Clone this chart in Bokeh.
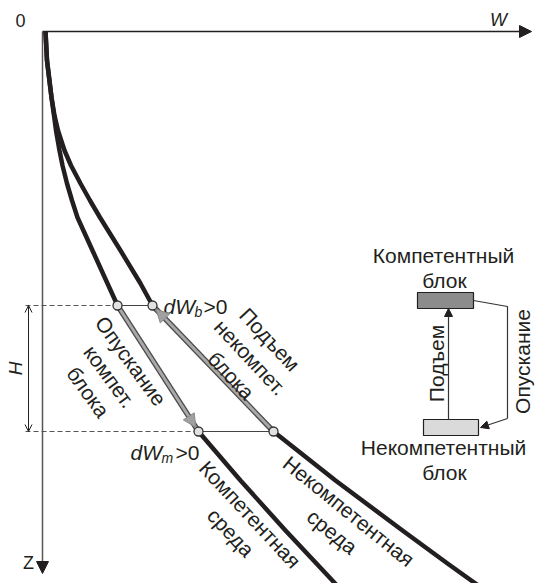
import math
from bokeh.plotting import figure
from bokeh.models import Range1d, Arrow, NormalHead, OpenHead
from bokeh.core.properties import value
from bokeh.embed import file_html
from bokeh.resources import INLINE

# ---- data (W to the right, Z downward, origin at the axes corner) ----
comp_upper_z = [0, 29, 66, 84, 99, 119, 134, 152, 169, 186, 219, 252, 274]
comp_upper_w = [3, 4.5, 9, 11.5, 13.5, 17, 20, 24.5, 29.5, 35, 50, 65, 75]
comp_lower_z = [400, 449, 499, 547, 560]
comp_lower_w = [156, 198, 243, 288, 300]

incomp_upper_z = [0, 29, 66, 84, 99, 119, 134, 152, 169, 186, 219, 252, 274]
incomp_upper_w = [3, 4.5, 9, 12, 15.5, 22, 28.5, 38, 47.5, 57.5, 78, 98, 110]
incomp_lower_z = [400, 449, 499, 532, 552, 560]
incomp_lower_w = [231, 293, 360, 405, 433, 444]

block_top_z = 274
block_bot_z = 400
comp_top_w, incomp_top_w = 75, 110
comp_bot_w, incomp_bot_w = 156, 231

w_axis_end = 489
z_axis_end = 542
h_dim_w = -14
dash_start_w = -17

# schematic: boxes [w0, w1, z0, z1]
box_comp = [375, 431, 261, 277]
box_incomp = [381, 436, 388, 404]
lift_w = 406
conn_w = [431, 465, 465]
conn_z = [269, 275, 387]
conn_arrow_end = (438, 396)

INK = "#231f20"
FONT = "Liberation Sans"
OX, OY = 42, 31
W, H = 537, 583

p = figure(width=W, height=H, output_backend="svg", toolbar_location=None,
           x_range=Range1d(0 - OX, W - OX), y_range=Range1d(H - OY, 0 - OY),
           min_border=0, min_border_left=0, min_border_right=0,
           min_border_top=0, min_border_bottom=0)
p.axis.visible = False
p.grid.visible = False
p.outline_line_color = None
p.background_fill_color = "white"
p.border_fill_color = "white"

# axes
p.line([0, w_axis_end - 8], [0, 0], line_color=INK, line_width=1.3)
p.add_layout(Arrow(end=NormalHead(size=12, fill_color=INK, line_color=INK),
                   x_start=w_axis_end - 12, y_start=0, x_end=w_axis_end, y_end=0,
                   line_color=INK, line_width=1.3))
p.line([0, 0], [0, z_axis_end - 8], line_color="#555555", line_width=1.5)
p.add_layout(Arrow(end=NormalHead(size=12, fill_color=INK, line_color=INK),
                   x_start=0, y_start=z_axis_end - 12, x_end=0, y_end=z_axis_end,
                   line_color=INK, line_width=1.3))

# dashed level lines and thin connectors
p.line([dash_start_w, comp_top_w], [block_top_z, block_top_z], line_color="#555555",
       line_width=1, line_dash="5 3")
p.line([dash_start_w, comp_bot_w], [block_bot_z, block_bot_z], line_color="#555555",
       line_width=1, line_dash="5 3")
p.line([comp_top_w, incomp_top_w], [block_top_z, block_top_z], line_color="#444444", line_width=1.2)
p.line([comp_bot_w, incomp_bot_w], [block_bot_z, block_bot_z], line_color="#444444", line_width=1.2)

# H dimension
p.add_layout(Arrow(start=OpenHead(size=7, line_color=INK, line_width=1),
                   end=OpenHead(size=7, line_color=INK, line_width=1),
                   x_start=h_dim_w, y_start=block_top_z, x_end=h_dim_w, y_end=block_bot_z,
                   line_color=INK, line_width=1))

# curves
for ws, zs in [(comp_upper_w, comp_upper_z), (comp_lower_w, comp_lower_z),
               (incomp_upper_w, incomp_upper_z), (incomp_lower_w, incomp_lower_z)]:
    p.line(ws, zs, line_color=INK, line_width=4.5, line_join="round")

# gray arrows
def gray_arrow(w0, z0, w1, z1):
    p.line([w0, w1], [z0, z1], line_color="#4a4a4a", line_width=5.5)
    p.line([w0, w1], [z0, z1], line_color="#a8a8a8", line_width=3)
    d = math.hypot(w1 - w0, z1 - z0)
    ux, uz = (w1 - w0) / d, (z1 - z0) / d
    ex, ez = w1 - 5 * ux, z1 - 5 * uz
    p.add_layout(Arrow(end=NormalHead(size=13, fill_color="#a0a0a0", line_color="#8a8a8a", line_width=1),
                       x_start=ex - 10 * ux, y_start=ez - 10 * uz, x_end=ex, y_end=ez,
                       line_alpha=0))

gray_arrow(comp_top_w, block_top_z, comp_bot_w, block_bot_z)
gray_arrow(incomp_bot_w, block_bot_z, incomp_top_w, block_top_z)

p.scatter([comp_top_w, incomp_top_w, comp_bot_w, incomp_bot_w],
          [block_top_z, block_top_z, block_bot_z, block_bot_z],
          size=9, fill_color="#e2e2e2", line_color="#333333", line_width=1.3)

# schematic boxes
p.quad(left=[box_comp[0]], right=[box_comp[1]], bottom=[box_comp[3]], top=[box_comp[2]],
       fill_color="#8c8c8c", line_color=INK, line_width=1.2)
p.quad(left=[box_incomp[0]], right=[box_incomp[1]], bottom=[box_incomp[3]], top=[box_incomp[2]],
       fill_color="#dadada", line_color=INK, line_width=1.2)
p.add_layout(Arrow(end=NormalHead(size=8, fill_color=INK, line_color=INK),
                   x_start=lift_w, y_start=box_incomp[2], x_end=lift_w, y_end=box_comp[3],
                   line_color="#333333", line_width=1.2))
p.line(conn_w, conn_z, line_color="#333333", line_width=1.2)
p.add_layout(Arrow(end=NormalHead(size=8, fill_color=INK, line_color=INK),
                   x_start=conn_w[-1], y_start=conn_z[-1],
                   x_end=conn_arrow_end[0], y_end=conn_arrow_end[1],
                   line_color="#333333", line_width=1.2))

# texts
def txt(x, y, s, size=21, angle=0.0, align="center", baseline="middle", style="normal"):
    p.text(x=[x - OX], y=[y - OY], text=[s], angle=angle,
           text_font=value(FONT), text_font_size=f"{size}px",
           text_align=align, text_baseline=baseline, text_color=INK,
           text_font_style=style, text_line_height=1.15)

txt(20, 20, "0", size=18)
txt(498, 19, "W", size=18, style="italic")
txt(28, 562, "Z", size=18)
txt(15, 368, "H", size=19, angle=math.pi / 2, style="italic")

txt(163, 306, "dW", align="left", baseline="alphabetic", style="italic")
txt(194, 311, "b", size=14, align="left", baseline="alphabetic", style="italic")
txt(203, 306, ">0", align="left", baseline="alphabetic")
txt(130, 452, "dW", align="left", baseline="alphabetic", style="italic")
txt(161, 457, "m", size=14, align="left", baseline="alphabetic", style="italic")
txt(175, 452, ">0", align="left", baseline="alphabetic")

txt(109, 376, "Опускание\nкомпет.\nблока", angle=math.radians(-54))
txt(250, 357, "Подъем\nнекомпет.\nблока", angle=math.radians(-47))
txt(240, 523, "Компетентная\nсреда", angle=math.radians(-47))
txt(340, 521, "Некомпетентная\nсреда", angle=math.radians(-39))

txt(443, 255, "Компетентный")
txt(444, 280, "блок")
txt(443, 447, "Некомпетентный")
txt(444, 472, "блок")
txt(436, 363, "Подъем", angle=math.pi / 2)
txt(522, 361, "Опускание", angle=math.pi / 2)

open("out.html", "w").write(file_html(p, INLINE))
